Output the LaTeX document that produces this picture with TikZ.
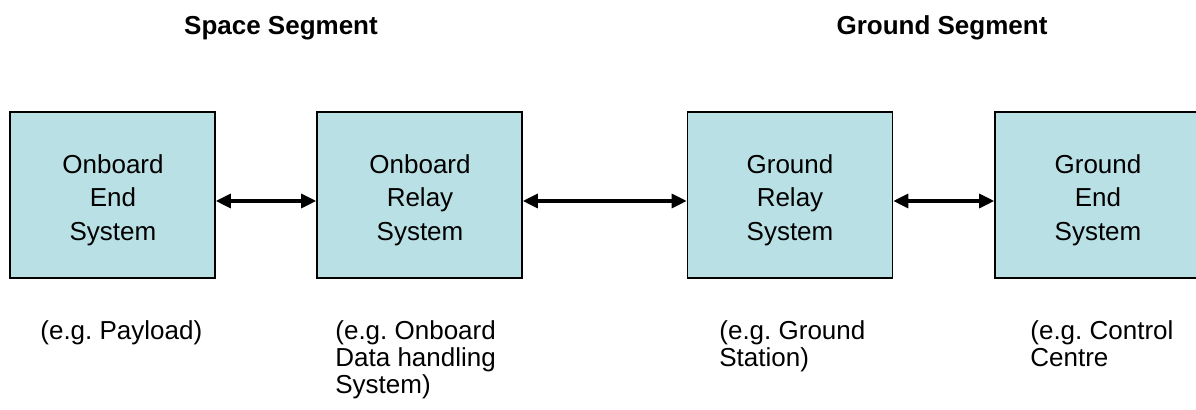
\documentclass[tikz,border=0pt]{standalone}
\usepackage{fontspec}
\setmainfont{Liberation Sans}
\usetikzlibrary{arrows.meta}
\definecolor{boxfill}{RGB}{185,224,228}
\frenchspacing
\tikzset{
  sysbox/.style={draw=black, line width=0.8pt, fill=boxfill, minimum width=102.5pt, minimum height=83pt, inner sep=0pt},
  boxtext/.style={inner sep=0pt, align=center, font=\fontsize{13pt}{16.8pt}\selectfont\frenchspacing},
  title/.style={font=\fontsize{13pt}{15pt}\selectfont\bfseries, inner sep=0pt},
  note/.style={anchor=north west, align=left, inner sep=0pt, font=\fontsize{13pt}{13.6pt}\selectfont\frenchspacing},
  link/.style={line width=1.6pt, {Triangle[length=7.5pt,width=7pt]}-{Triangle[length=7.5pt,width=7pt]}}
}
\begin{document}
\begin{tikzpicture}[x=0.5pt,y=-0.5pt]
\useasboundingbox (0,0) rectangle (1196,410);
\clip (0,0) rectangle (1196,410);
\node[title] (t1) at (281,28) {Space Segment};
\node[title] (t2) at (942,28) {Ground Segment};
\node[sysbox] (b1) at (112.5,195) {};
\node[sysbox] (b2) at (419.5,195) {};
\node[sysbox] (b3) at (790,195) {};
\node[sysbox] (b4) at (1097.5,195) {};
\node[boxtext] (b1t) at (113,200) {Onboard\\End\\System};
\node[boxtext] (b2t) at (420,200) {Onboard\\Relay\\System};
\node[boxtext] (b3t) at (790,200) {Ground\\Relay\\System};
\node[boxtext] (b4t) at (1098,200) {Ground\\End\\System};
\draw[link] ([yshift=-3pt]b1.east) -- ([yshift=-3pt]b2.west);
\draw[link] ([yshift=-3pt]b2.east) -- ([yshift=-3pt]b3.west);
\draw[link] ([yshift=-3pt]b3.east) -- ([yshift=-3pt]b4.west);
\node[note] (n1) at (40,320) {(e.g. Payload)};
\node[note] (n2) at (335,320) {(e.g. Onboard\\Data handling\\System)};
\node[note] (n3) at (719,320) {(e.g. Ground\\Station)};
\node[note] (n4) at (1030,320) {(e.g. Control\\Centre};
\end{tikzpicture}
\end{document}
